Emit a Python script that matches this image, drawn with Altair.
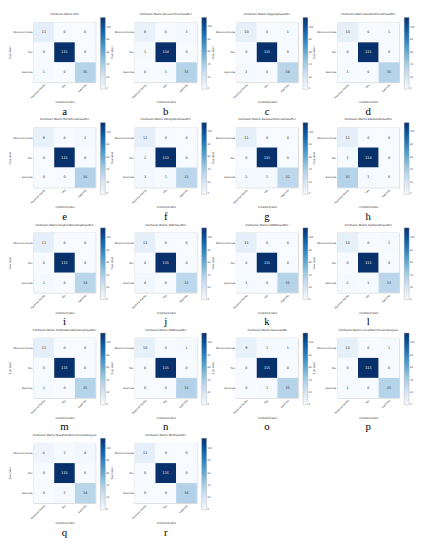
import altair as alt
import pandas as pd

classes = ["Montmorillonite", "Talc", "Kaolinite"]
letters = list("abcdefghijklmnopqr")
models = [
    "SVC", "DecisionTreeClassifier", "BaggingClassifier", "RandomForestClassifier",
    "ExtraTreesClassifier", "KNeighborsClassifier", "GaussianProcessClassifier", "AdaBoostClassifier",
    "GradientBoostingClassifier", "XGBClassifier", "LGBMClassifier", "CatBoostClassifier",
    "HistGradientBoostingClassifier", "SGDClassifier", "GaussianNB", "LinearDiscriminantAnalysis",
    "QuadraticDiscriminantAnalysis", "MLPClassifier",
]

cm_a = [[11, 0, 0], [0, 115, 0], [1, 0, 35]]
cm_b = [[8, 0, 3], [1, 114, 0], [0, 1, 35]]
cm_c = [[10, 0, 1], [0, 115, 0], [2, 0, 34]]
cm_d = [[10, 0, 1], [0, 115, 0], [1, 0, 35]]
cm_e = [[9, 0, 2], [0, 115, 0], [0, 0, 36]]
cm_f = [[11, 0, 0], [2, 113, 0], [3, 1, 32]]
cm_g = [[11, 0, 0], [0, 115, 0], [2, 2, 32]]
cm_h = [[11, 0, 0], [1, 114, 0], [35, 1, 0]]
cm_i = [[11, 0, 0], [0, 115, 0], [2, 0, 34]]
cm_j = [[11, 0, 0], [0, 115, 0], [4, 0, 32]]
cm_k = [[11, 0, 0], [0, 115, 0], [1, 0, 35]]
cm_l = [[10, 0, 1], [0, 115, 0], [2, 1, 33]]
cm_m = [[11, 0, 0], [0, 115, 0], [1, 0, 35]]
cm_n = [[10, 0, 1], [0, 115, 0], [0, 0, 36]]
cm_o = [[9, 1, 1], [0, 115, 0], [0, 1, 35]]
cm_p = [[10, 0, 1], [0, 115, 0], [1, 0, 35]]
cm_q = [[6, 1, 4], [0, 115, 0], [0, 2, 34]]
cm_r = [[11, 0, 0], [0, 115, 0], [0, 0, 36]]

matrices = [cm_a, cm_b, cm_c, cm_d, cm_e, cm_f, cm_g, cm_h, cm_i,
            cm_j, cm_k, cm_l, cm_m, cm_n, cm_o, cm_p, cm_q, cm_r]

blues = ["#f7fbff", "#deebf7", "#c6dbef", "#9ecae1", "#6baed6",
         "#4292c6", "#2171b5", "#08519c", "#08306b"]

W = 63
H = 61


def panel(i):
    m = matrices[i]
    vmax = max(max(r) for r in m)
    rows = []
    for ti, t in enumerate(classes):
        for pi, p in enumerate(classes):
            rows.append({"true": t, "pred": p, "v": m[ti][pi]})
    df = pd.DataFrame(rows)
    base = alt.Chart(df)
    stops = [vmax * k / 8 for k in range(9)]
    xenc = alt.X("pred:N", sort=classes, title="Predicted label",
                 axis=alt.Axis(labelAngle=315, labelAlign="right", labelBaseline="top",
                               labelFontSize=2.5, labelPadding=1, ticks=False, domain=False,
                               titleFontSize=2.6, titleFontWeight="normal", titlePadding=2,
                               labelColor="#222", titleColor="#222"))
    yenc = alt.Y("true:N", sort=classes, title="True label",
                 axis=alt.Axis(labelFontSize=2.5, labelPadding=1.5, ticks=False, domain=False,
                               titleFontSize=2.6, titleFontWeight="normal", titlePadding=1,
                               labelColor="#222", titleColor="#222"))
    rect = base.mark_rect().encode(
        x=xenc,
        y=yenc,
        color=alt.Color("v:Q",
                        scale=alt.Scale(domain=stops, range=blues),
                        legend=alt.Legend(orient="none", legendX=W + 5, legendY=-5,
                                          direction="vertical", gradientLength=H + 12,
                                          gradientThickness=5, title=None,
                                          values=[0, 20, 40, 60, 80, 100],
                                          labelFontSize=2.3, labelOffset=1,
                                          labelColor="#333",
                                          gradientStrokeColor="#aaaaaa",
                                          gradientStrokeWidth=0.4)),
    )
    txt = base.mark_text(fontSize=3.4).encode(
        x=alt.X("pred:N", sort=classes),
        y=alt.Y("true:N", sort=classes),
        text="v:Q",
        color=alt.condition(alt.datum.v > vmax / 2, alt.value("white"), alt.value("#222")),
    )
    letter = alt.Chart(pd.DataFrame({"t": [letters[i]]})).mark_text(
        font="Liberation Serif", fontSize=11, baseline="alphabetic", fill="#000000"
    ).encode(text="t:N", x=alt.value(W / 2), y=alt.value(H + 33))
    return alt.layer(rect, txt, letter).properties(
        width=W, height=H,
        title=alt.TitleParams("Confusion Matrix " + models[i], fontSize=2.7,
                              fontWeight="normal", offset=1.5, color="#222",
                              frame="group"),
    )


panels = [panel(i) for i in range(len(models))]

chart = alt.concat(*panels, columns=4, spacing={"row": 46, "column": 40}, bounds="flush").resolve_scale(
    color="independent"
).properties(padding=0).configure(font="DejaVu Sans").configure_view(
    stroke="#cccccc", strokeWidth=0.8
)

chart.save("out.html", embed_options={"renderer": "svg", "actions": False})
